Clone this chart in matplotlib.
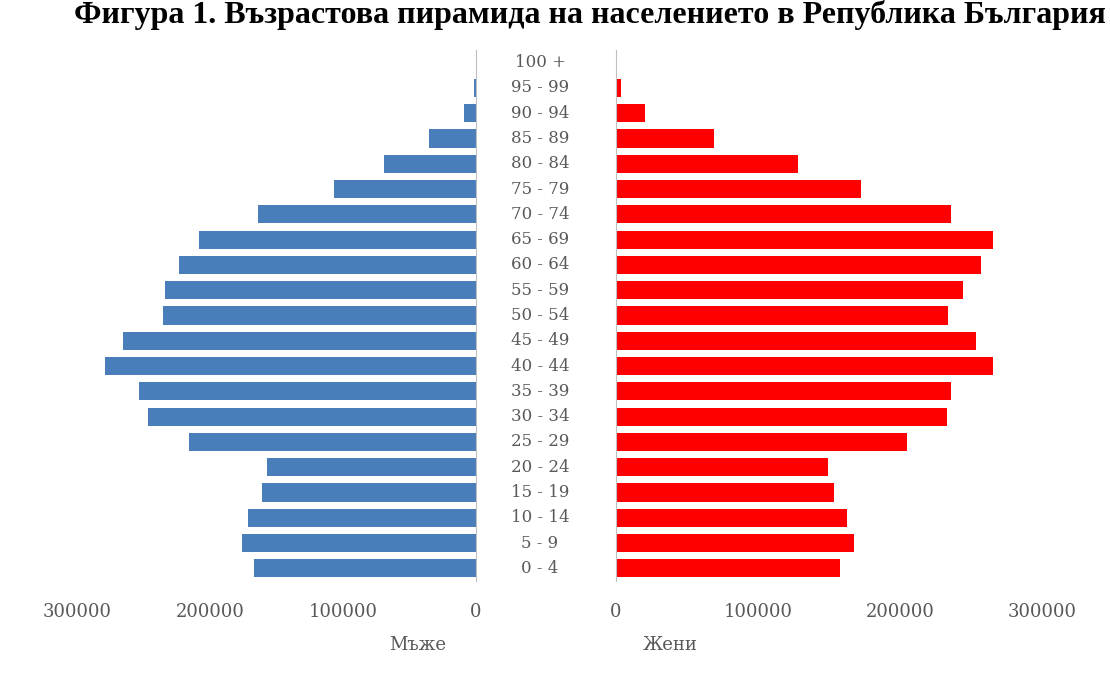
import matplotlib
matplotlib.use('Agg')
import matplotlib.pyplot as plt

age_groups = ['0 - 4', '5 - 9', '10 - 14', '15 - 19', '20 - 24', '25 - 29', '30 - 34',
              '35 - 39', '40 - 44', '45 - 49', '50 - 54', '55 - 59', '60 - 64', '65 - 69',
              '70 - 74', '75 - 79', '80 - 84', '85 - 89', '90 - 94', '95 - 99', '100 +']
men = [166900, 175900, 171400, 160900, 157100, 215800, 246600, 253400, 279000, 265400,
       235300, 233800, 223300, 208300, 163900, 106800, 69200, 35300, 9000, 1500, 300]
women = [157700, 167600, 162700, 153500, 149300, 205000, 233100, 236000, 265500, 253500,
         233800, 244400, 257000, 265500, 236000, 172500, 128000, 69000, 20400, 3500, 700]
ticks = [0, 100000, 200000, 300000]

title = 'Фигура 1. Възрастова пирамида на населението в Република България'
text_gray = '#595959'

fig = plt.figure(figsize=(11.1, 6.75), dpi=100)
ax_m = fig.add_axes([77 / 1110, 1 - 581 / 675, 399 / 1110, 531 / 675])
ax_w = fig.add_axes([616 / 1110, 1 - 581 / 675, 426 / 1110, 531 / 675])

ys = list(range(len(age_groups)))
ax_m.barh(ys, men, height=0.72, color='#4a7ebb')
ax_w.barh(ys, women, height=0.72, color='#ff0000')

for ax in (ax_m, ax_w):
    ax.set_ylim(-0.5, len(age_groups) - 0.5)
    ax.set_xlim(0, 300000)
    ax.set_xticks(ticks)
    ax.set_xticklabels([str(t) for t in ticks], family='DejaVu Serif', fontsize=13, color=text_gray)
    ax.set_yticks([])
    ax.tick_params(axis='x', length=0, pad=16)
    for s in ax.spines.values():
        s.set_visible(False)

ax_m.invert_xaxis()
ax_m.spines['right'].set_visible(True)
ax_m.spines['right'].set_color('#bfbfbf')
ax_w.spines['left'].set_visible(True)
ax_w.spines['left'].set_color('#bfbfbf')

# age labels in the gap between the two halves
for y, lab in zip(ys, age_groups):
    ax_w.text(-53500, y, lab, ha='center', va='center', family='DejaVu Serif',
              fontsize=12, color=text_gray, clip_on=False)

fig.text(418 / 1110, 1 - 645 / 675, 'Мъже', ha='center', va='center',
         family='DejaVu Serif', fontsize=13, color=text_gray)
fig.text(670 / 1110, 1 - 645 / 675, 'Жени', ha='center', va='center',
         family='DejaVu Serif', fontsize=13, color=text_gray)

fig.text(590 / 1110, 1 - 23 / 675, title, ha='center', va='baseline',
         family='Liberation Serif', fontweight='bold', fontsize=23, color='black')

fig.savefig('out.png', dpi=100, facecolor='white')
